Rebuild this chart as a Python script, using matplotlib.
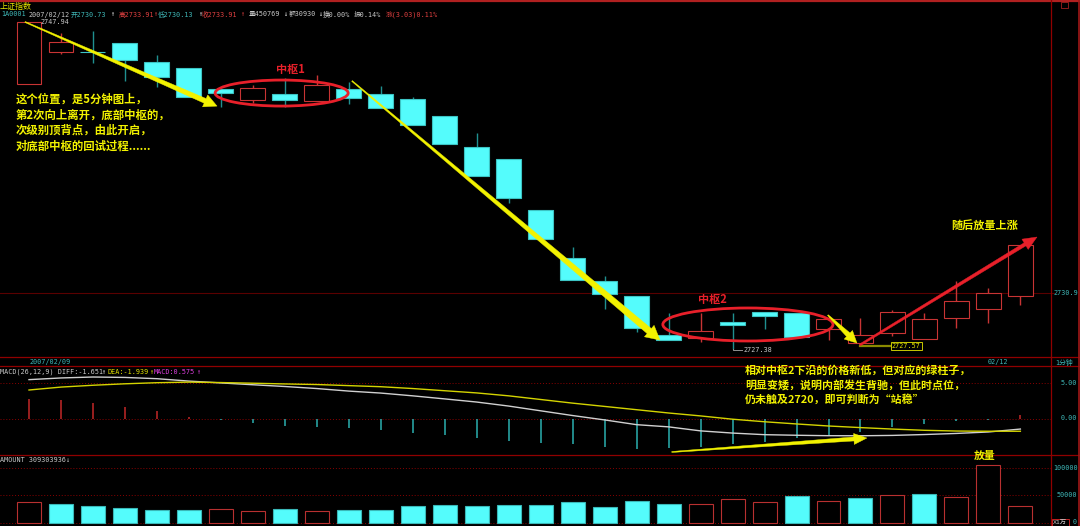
import numpy as np
import matplotlib
matplotlib.use("Agg")
import matplotlib.pyplot as plt
from matplotlib.patches import Polygon, Ellipse, Rectangle
from matplotlib.lines import Line2D
from matplotlib.transforms import IdentityTransform

# ---------------- data (1-minute bars, 上证指数) ----------------
opens = [2744.04, 2746.05, 2746.05, 2746.62, 2745.43, 2745.05, 2743.73, 2743.04,
         2743.41, 2742.97, 2743.73, 2743.41, 2743.10, 2742.03, 2740.08, 2739.33,
         2736.12, 2733.10, 2731.65, 2730.71, 2728.26, 2728.07, 2729.08, 2729.71,
         2729.64, 2728.64, 2727.76, 2728.38, 2728.01, 2729.33, 2729.89, 2730.73]
highs = [2747.94, 2747.25, 2747.37, 2746.62, 2745.87, 2745.05, 2743.73, 2743.98,
         2744.42, 2744.61, 2744.17, 2743.92, 2743.22, 2742.03, 2740.96, 2739.33,
         2736.12, 2733.79, 2731.97, 2730.71, 2729.64, 2729.64, 2729.64, 2729.71,
         2729.64, 2729.45, 2729.33, 2729.83, 2729.64, 2731.65, 2731.21, 2733.91]
lows = [2744.04, 2745.93, 2745.36, 2744.23, 2743.85, 2743.22, 2742.60, 2742.85,
        2742.60, 2742.97, 2742.78, 2742.53, 2741.46, 2740.27, 2738.26, 2736.56,
        2734.30, 2731.72, 2729.89, 2728.45, 2727.94, 2727.82, 2727.38, 2728.64,
        2728.13, 2727.94, 2727.57, 2728.20, 2728.01, 2728.70, 2729.01, 2730.13]
closes = [2747.94, 2746.68, 2746.03, 2745.55, 2744.48, 2743.22, 2743.48, 2743.79,
          2743.04, 2743.98, 2743.16, 2742.53, 2741.46, 2740.27, 2738.26, 2736.87,
          2734.30, 2731.72, 2730.84, 2728.70, 2727.94, 2728.51, 2728.89, 2729.45,
          2728.13, 2729.27, 2728.26, 2729.71, 2729.27, 2730.40, 2730.90, 2733.91]
amounts = [37300, 34800, 30400, 27900, 24100, 24100, 24800, 22300,
           25400, 22300, 24100, 24100, 31000, 32300, 31000, 33000,
           33000, 37800, 28600, 39100, 34200, 34800, 44100, 37800,
           49000, 39100, 45200, 50800, 52100, 46500, 104300, 30930]
diff = [5.42, 5.65, 5.78, 5.72, 5.55, 5.22, 4.97, 4.72, 4.48, 4.20, 3.85, 3.58,
        3.20, 2.78, 2.35, 1.80, 1.15, 0.50, -0.10, -0.75, -1.05, -1.60, -1.90,
        -2.12, -2.20, -2.26, -2.27, -2.22, -2.10, -1.95, -1.75, -1.35]
dea = [4.00, 4.40, 4.65, 4.85, 5.00, 5.08, 5.02, 4.93, 4.83, 4.75, 4.60, 4.45,
       4.20, 3.90, 3.60, 3.20, 2.70, 2.20, 1.75, 1.30, 0.85, 0.45, 0.00, -0.35,
       -0.65, -0.93, -1.15, -1.35, -1.52, -1.62, -1.65, -1.65]
macd = [2.73, 2.59, 2.16, 1.64, 1.08, 0.37, -0.10, -0.48, -0.90, -1.04, -1.27,
        -1.52, -1.85, -2.12, -2.55, -2.93, -3.20, -3.45, -3.75, -4.10, -3.99,
        -3.77, -3.44, -3.08, -2.62, -2.26, -1.80, -1.03, -0.70, -0.25, -0.05, 0.58]
price_ref = 2730.9
price_high_label = 2747.94
price_low_label = 2727.38
price_low2_label = 2727.57
macd_ticks = [5.00, 0.00]
amount_ticks = [100000, 50000, 0]
left_date = "2007/02/09"
right_date = "02/12"

# ---------------- figure ----------------
W, H, DPI = 1080, 526, 100
fig = plt.figure(figsize=(W / DPI, H / DPI), dpi=DPI, facecolor="black")

CJK = ["Noto Sans CJK SC", "DejaVu Sans"]
MONO = ["DejaVu Sans Mono", "Noto Sans CJK SC"]
TEAL = "#3fb8b8"
GRAY = "#c8c8c8"
WHITE = "#f0f0f0"
RED = "#c83434"
REDTXT = "#e04040"
YEL = "#f2f200"
ARED = "#e8202a"
CYAN = "#54fcfc"
CYAN_E = "#3cc4c4"
CYAN_W = "#1f9090"
DIV = "#900000"
GRID = "#8a0000"
SM = 4.9


def fx(x):
    return x / W


def fy(y):
    return 1 - y / H


def ftext(x, y, s, color, size=SM, family=MONO, ha="left", weight="normal"):
    fig.text(fx(x), fy(y), s, color=color, fontsize=size, family=family,
             ha=ha, va="center", fontweight=weight, zorder=10)


def add_ax(x0, y0, x1, y1):
    ax = fig.add_axes([x0 / W, 1 - y1 / H, (x1 - x0) / W, (y1 - y0) / H])
    ax.set_facecolor("black")
    for s in ax.spines.values():
        s.set_visible(False)
    ax.set_xticks([])
    ax.set_yticks([])
    return ax


PLOT_R = 1051
STEP = 31.98
XLIM = (-29 / STEP, (PLOT_R - 29) / STEP)

ax_p = add_ax(0, 0, PLOT_R, 357)
ax_p.set_xlim(*XLIM)
ax_p.set_ylim(2726.876, 2749.32)
ax_m = add_ax(0, 366, PLOT_R, 455)
ax_m.set_xlim(*XLIM)
ax_m.set_ylim(-4.904, 7.288)
ax_v = add_ax(0, 455, PLOT_R, 526)
ax_v.set_xlim(*XLIM)
ax_v.set_ylim(-5405, 122523)

idx = np.arange(len(opens))
o = np.array(opens)
c = np.array(closes)
h = np.array(highs)
l = np.array(lows)
up = c >= o

# ---- price panel ----
ax_p.axhline(price_ref, color="#5a0000", lw=0.8, zorder=1)
ax_p.vlines(idx, l, h, colors=[RED if u else CYAN_W for u in up], linewidth=1.0, zorder=2)
body_lo = np.minimum(o, c)
body_h = np.maximum(np.abs(c - o), 0.03)
ax_p.bar(idx, body_h, bottom=body_lo, width=0.78,
         color=["black" if u else CYAN for u in up],
         edgecolor=[RED if u else CYAN_E for u in up], linewidth=0.8, zorder=3)

# ---- MACD panel ----
for t in macd_ticks:
    ax_m.axhline(t, color=GRID, lw=0.7, ls=(0, (1, 2)), zorder=1)
ax_m.vlines(idx, 0, macd, colors=["#c42828" if v > 0 else "#2ab0b0" for v in macd],
            linewidth=1.1, zorder=2)
ax_m.plot(idx, diff, color="#d0d0d0", lw=1.0, zorder=3)
ax_m.plot(idx, dea, color="#d4d400", lw=1.0, zorder=3)

# ---- amount panel ----
for t in amount_ticks:
    ax_v.axhline(t, color=GRID, lw=0.7, ls=(0, (1, 2)), zorder=1)
vup = [True] + [closes[i] >= closes[i - 1] for i in range(1, len(closes))]
ax_v.bar(idx, amounts, width=0.75,
         color=["black" if u else CYAN for u in vup],
         edgecolor=["#b83030" if u else "#3ab8b8" for u in vup], linewidth=0.8, zorder=2)

# ---- frame lines ----
def hline(y, x0, x1, color, lw):
    fig.add_artist(Line2D([fx(x0), fx(x1)], [fy(y), fy(y)], transform=fig.transFigure,
                          color=color, lw=lw, zorder=5))


def vline(x, y0, y1, color, lw):
    fig.add_artist(Line2D([fx(x), fx(x)], [fy(y0), fy(y1)], transform=fig.transFigure,
                          color=color, lw=lw, zorder=5))


hline(1, 0, W, "#b02020", 1.6)
hline(357, 0, W, DIV, 0.9)
hline(366, 0, W, DIV, 0.9)
hline(455, 0, W, DIV, 0.9)
hline(293, PLOT_R, 1054, "#5a0000", 0.8)
vline(PLOT_R, 0, H, DIV, 0.9)
vline(1078.5, 0, H, "#a01818", 1.2)
fig.add_artist(Rectangle((fx(1061), fy(8)), 7 / W, 6 / H, transform=fig.transFigure,
                         fill=False, edgecolor="#a02020", lw=0.6, zorder=5))

# ---- header texts ----
ftext(0, 6, "上证指数", "#e8e800", size=5.8, family=CJK)
header = [("1A0001", 1, TEAL), ("2007/02/12", 29, GRAY), ("开2730.73", 71, TEAL),
          ("↑", 110, WHITE), ("高2733.91", 119, REDTXT), ("↑", 153, REDTXT),
          ("低2730.13", 158, TEAL), ("↑", 198, WHITE), ("收2733.91", 202, REDTXT),
          ("↑", 240, REDTXT), ("量450769", 249, GRAY), ("↓", 283, WHITE),
          ("额30930", 289, GRAY), ("↓", 318, WHITE), ("换0.00%", 323, GRAY),
          ("振0.14%", 354, GRAY), ("涨(3.03)0.11%", 386, REDTXT)]
for s, x, col in header:
    ftext(x, 14.5, s, col)

macd_head = [("MACD(26,12,9) DIFF:-1.651", 0, GRAY), ("↑", 101, WHITE),
             ("DEA:-1.939", 107, "#e0e000"), ("↑", 149, "#e0e000"),
             ("MACD:0.575", 154, "#e040e0"), ("↑", 196, "#e040e0")]
for s, x, col in macd_head:
    ftext(x, 371.5, s, col)
ftext(0, 459.5, "AMOUNT 309303936↓", GRAY)
ftext(30, 362, left_date, TEAL)
ftext(988, 362, right_date, TEAL)

# right scale labels
ftext(1054, 293, f"{price_ref:.1f}", TEAL)
ftext(1055, 362, "1分钟", TEAL)
ftext(1061, 382.7, f"{macd_ticks[0]:.2f}", TEAL)
ftext(1061, 418.5, f"{macd_ticks[1]:.2f}", TEAL)
ftext(1053, 467.5, f"{amount_ticks[0]}", TEAL)
ftext(1057, 495, f"{amount_ticks[1]}", TEAL)
ftext(1073, 522, f"{amount_ticks[2]}", TEAL)
fig.add_artist(Rectangle((fx(1052), fy(526)), 17 / W, 7 / H, transform=fig.transFigure,
                         fill=False, edgecolor="#c02020", lw=0.7, zorder=6))
ftext(1053, 522.5, "X1万", GRAY, size=4.6)

# price labels
ax_p.text(0.35, price_high_label, f"{price_high_label:.2f}", color=GRAY, fontsize=SM,
          family=MONO, ha="left", va="center", zorder=6)
ax_p.plot([22.0, 22.0, 22.3], [price_low_label, price_low_label - 0.06, price_low_label - 0.06],
          color="#909090", lw=0.7, clip_on=False, zorder=6)
ax_p.text(22.35, price_low_label - 0.06, f"{price_low_label:.2f}", color=GRAY, fontsize=SM,
          family=MONO, ha="left", va="center", zorder=6, clip_on=False)
ax_p.plot([26.0, 26.95], [price_low2_label, price_low2_label], color="#8a8a00", lw=1.6,
          zorder=6, clip_on=False)
ax_p.text(26.98, price_low2_label, f"{price_low2_label:.2f}", color="#e0e000", fontsize=SM,
          family=MONO, ha="left", va="center", zorder=7, clip_on=False,
          bbox=dict(boxstyle="square,pad=0.15", fc="black", ec="#c8c800", lw=0.7))

# ---- annotations ----
def taper_arrow(ax, p0, p1, w0, w1, hw, hl, color):
    t = ax.transData
    s = np.array(t.transform(p0))
    e = np.array(t.transform(p1))
    d = e - s
    u = d / np.hypot(*d)
    n = np.array([-u[1], u[0]])
    b = e - u * hl
    pts = [s + n * w0 / 2, b + n * w1 / 2, b + n * hw / 2, e,
           b - n * hw / 2, b - n * w1 / 2, s - n * w0 / 2]
    fig.add_artist(Polygon(pts, closed=True, transform=IdentityTransform(),
                           facecolor=color, edgecolor=color, lw=0.3, zorder=8))


taper_arrow(ax_p, (-0.125, 2747.94), (5.88, 2742.65), 1.0, 5.0, 13, 13, YEL)
taper_arrow(ax_p, (10.1, 2744.23), (19.73, 2727.94), 1.0, 6.5, 15, 14, YEL)
taper_arrow(ax_p, (24.98, 2729.51), (25.89, 2727.75), 1.0, 5.0, 12, 12, YEL)
taper_arrow(ax_p, (25.98, 2727.63), (31.52, 2734.42), 2.0, 3.5, 12, 14, ARED)
taper_arrow(ax_m, (20.1, -4.49), (26.2, -2.58), 1.0, 4.0, 11, 13, YEL)

ax_p.add_patch(Ellipse((7.9, 2743.47), 4.16, 1.635, fill=False, edgecolor=ARED,
                       lw=2.0, zorder=7, clip_on=False))
ax_p.add_patch(Ellipse((22.48, 2728.92), 5.32, 2.075, fill=False, edgecolor=ARED,
                       lw=2.0, zorder=7, clip_on=False))
ax_p.text(8.19, 2744.92, "中枢1", color=ARED, fontsize=8, fontweight="bold", family=CJK,
          ha="center", va="center", zorder=8)
ax_p.text(21.36, 2730.46, "中枢2", color=ARED, fontsize=8, fontweight="bold", family=CJK,
          ha="center", va="center", zorder=8)

note1 = ["这个位置，是5分钟图上，", "第2次向上离开，底部中枢的，",
         "次级别顶背点，由此开启，", "对底部中枢的回试过程......"]
for s, y in zip(note1, [99.5, 115, 130.5, 146]):
    ftext(16, y, s, YEL, size=8.2, family=CJK, weight="bold")

note2 = ["相对中枢2下沿的价格新低，但对应的绿柱子，", "明显变矮，说明内部发生背驰，但此时点位，",
         "仍未触及2720，即可判断为“站稳”"]
for s, y in zip(note2, [370, 385, 399.5]):
    ftext(745, y, s, YEL, size=7.9, family=CJK, weight="bold")

ftext(985, 225, "随后放量上涨", YEL, size=8.0, family=CJK, ha="center", weight="bold")
ftext(985, 455.5, "放量", YEL, size=7.8, family=CJK, ha="center", weight="bold")

fig.savefig("out.png", dpi=DPI, facecolor="black")
